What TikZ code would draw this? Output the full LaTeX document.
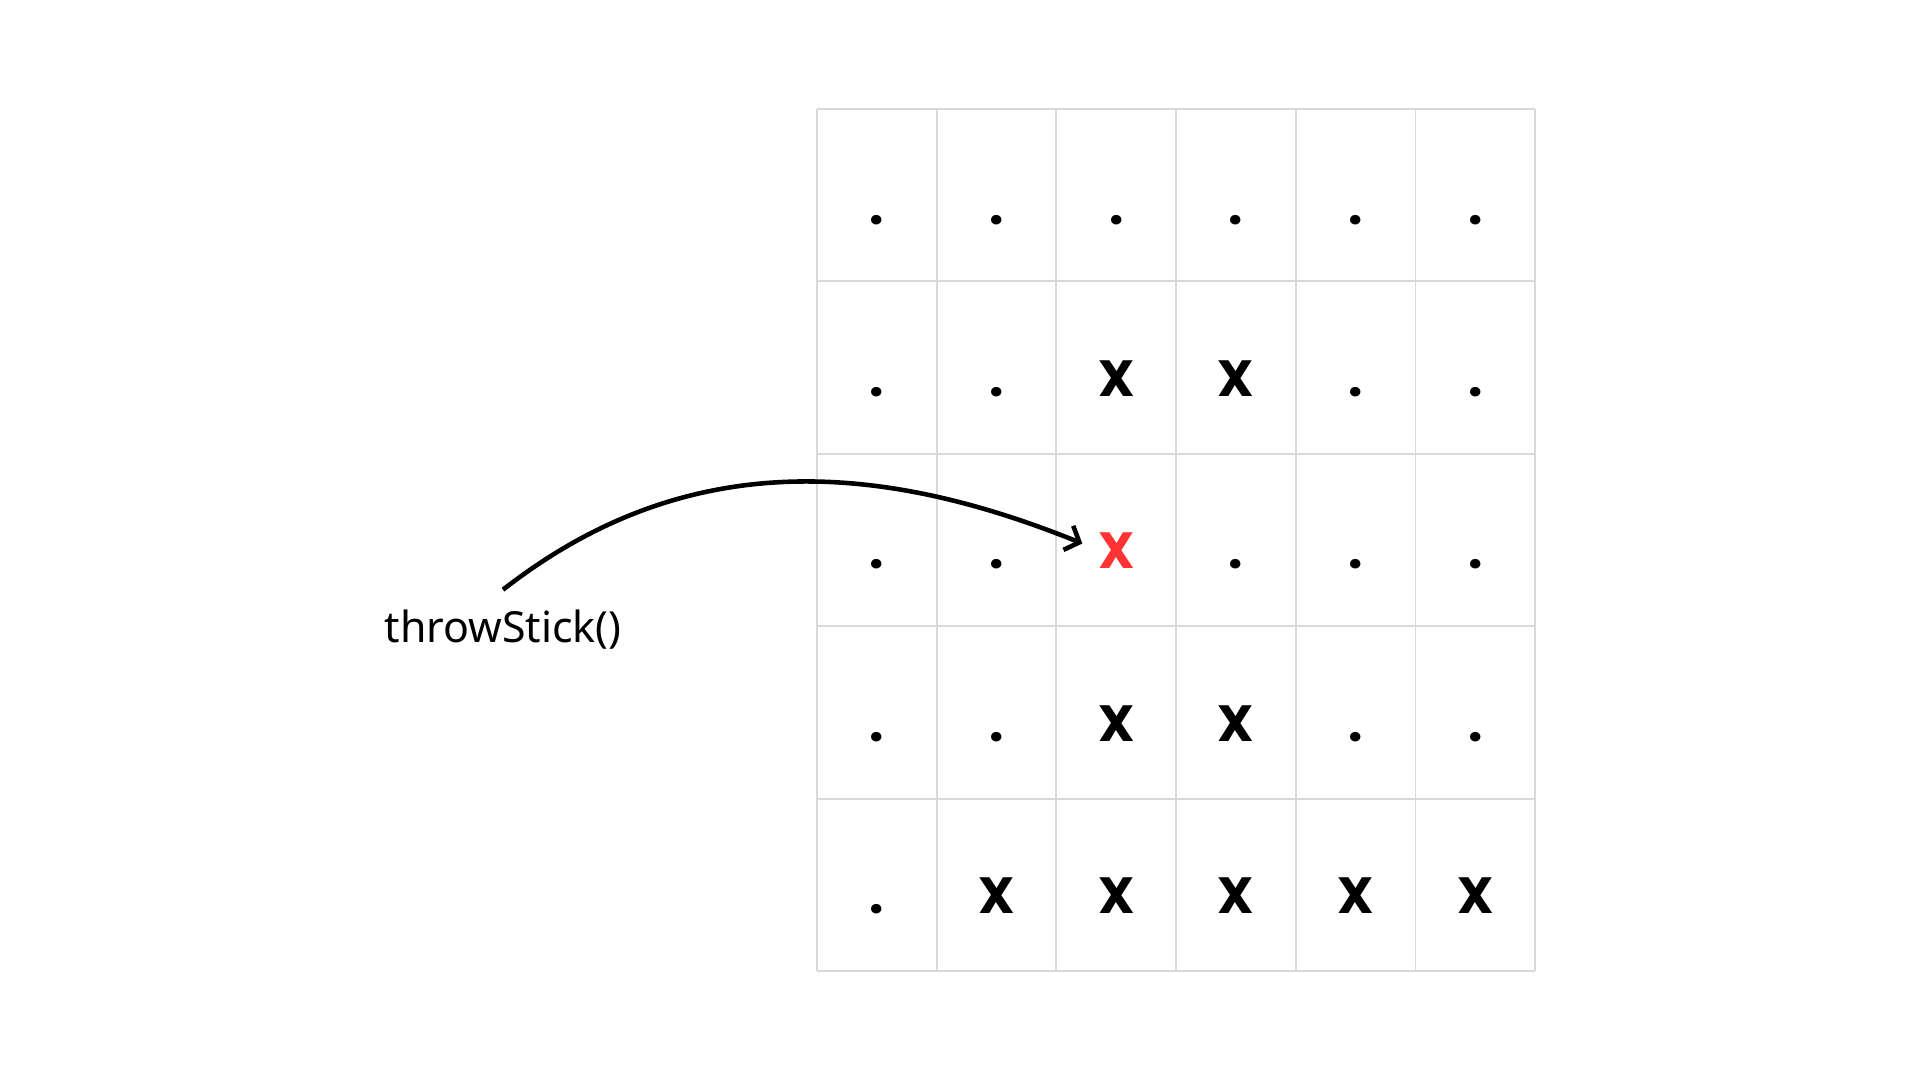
\documentclass[tikz,border=0pt]{standalone}
\usepackage{fontspec}
\setmainfont{Noto Sans}
\newfontfamily\cellfont{Poppins}
\usetikzlibrary{arrows.meta,positioning}
\definecolor{gridGray}{RGB}{217,217,217}
\definecolor{hitRed}{RGB}{255,51,51}

\begin{document}
\begin{tikzpicture}[
  cell/.style={anchor=base, inner sep=0pt,
               font=\cellfont\fontsize{14.5}{16}\selectfont\bfseries},
  gridline/.style={draw=gridGray, line width=0.55pt},
  callout/.style={anchor=base, inner sep=0pt,
                  font=\fontsize{12.2}{14}\selectfont},
  throwarrow/.style={-{Straight Barb[length=1.2mm,width=2.6mm]},
                     line width=1.3pt},
]
\useasboundingbox (0,0) rectangle (19.2,10.8);

% board: 6 columns x 5 rows
\foreach \i in {0,...,6}
  \draw[gridline] ({8.17+\i*1.197},1.09) -- ({8.17+\i*1.197},9.71);
\foreach \j in {0,...,5}
  \draw[gridline] (8.17,{1.09+\j*1.724}) -- (15.352,{1.09+\j*1.724});

\foreach \row [count=\r] in {{.,.,.,.,.,.},{.,.,X,X,.,.},
    {.,.,\textcolor{hitRed}{X},.,.,.},{.,.,X,X,.,.},{.,X,X,X,X,X}}
  \foreach \s [count=\c] in \row
    \node[cell] (c\r\c) at ({8.17+(\c-0.5)*1.197},{9.71-(\r-0.5)*1.724-0.29}) {\s};

\node[callout] (stick) at (5.03,4.37) {throwStick()};

\draw[throwarrow] ([yshift=0.2cm]stick.north)
  to[out=38,in=158] ([xshift=-0.15cm,yshift=-0.11cm]c33.north west);
\end{tikzpicture}
\end{document}
